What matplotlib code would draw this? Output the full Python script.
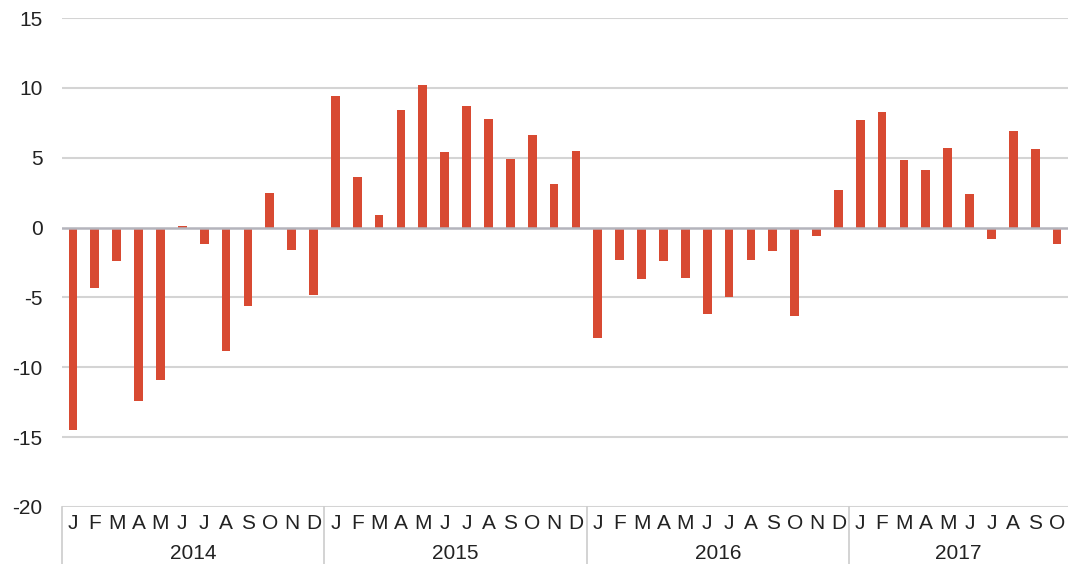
import numpy as np
import matplotlib
matplotlib.use('Agg')
import matplotlib.pyplot as plt
import matplotlib.transforms as mtransforms

plt.rcParams['font.family'] = ['Liberation Sans', 'DejaVu Sans']
plt.rcParams['axes.unicode_minus'] = False

# data
years = ['2014', '2015', '2016', '2017']
months = ['J', 'F', 'M', 'A', 'M', 'J', 'J', 'A', 'S', 'O', 'N', 'D']
vals_2014 = [-14.5, -4.3, -2.4, -12.4, -10.9, 0.1, -1.2, -8.8, -5.6, 2.5, -1.6, -4.8]
vals_2015 = [9.4, 3.6, 0.9, 8.4, 10.2, 5.4, 8.7, 7.8, 4.9, 6.6, 3.1, 5.5]
vals_2016 = [-7.9, -2.3, -3.7, -2.4, -3.6, -6.2, -5.0, -2.3, -1.7, -6.3, -0.6, 2.7]
vals_2017 = [7.7, 8.3, 4.85, 4.1, 5.7, 2.4, -0.8, 6.9, 5.6, -1.2]

series = [vals_2014, vals_2015, vals_2016, vals_2017]
values = np.concatenate(series)
month_labels = []
for s in series:
    month_labels += months[:len(s)]
x = np.arange(len(values))

fig = plt.figure(figsize=(10.68, 5.64), dpi=100)
ax = fig.add_axes([62 / 1068, 1 - 507 / 564, 1 - 62 / 1068, (507 - 18) / 564])

ax.set_ylim(-20, 15)
ax.set_xlim(-0.5, len(values) - 0.5)
ax.set_yticks(np.arange(-20, 16, 5))

for yv in np.arange(-20, 16, 5):
    if yv == 0:
        continue
    ax.axhline(yv, color='#d4d4d4', lw=1.5, zorder=0)

ax.bar(x, values, width=0.4, color='#d84a32', zorder=2)
ax.axhline(0, color='#b4b4bc', lw=1.8, zorder=3)

for sp in ax.spines.values():
    sp.set_visible(False)

ax.tick_params(axis='y', length=0, pad=14, labelsize=15, labelcolor='#222222')
ax.set_xticks(x)
ax.set_xticklabels(month_labels)
ax.tick_params(axis='x', length=0, pad=5, labelsize=15, labelcolor='#222222')

trans = mtransforms.blended_transform_factory(ax.transData, ax.transAxes)
start = 0
for yr, s in zip(years, series):
    n = len(s)
    ax.plot([start - 0.5, start - 0.5], [0, -0.12], transform=trans,
             color='#cccccc', lw=1.2, clip_on=False)
    ax.text(start + (n - 1) / 2, -0.095, yr, transform=trans, ha='center', va='center',
            fontsize=15, color='#222222')
    start += n

fig.savefig('out.png', dpi=100)
